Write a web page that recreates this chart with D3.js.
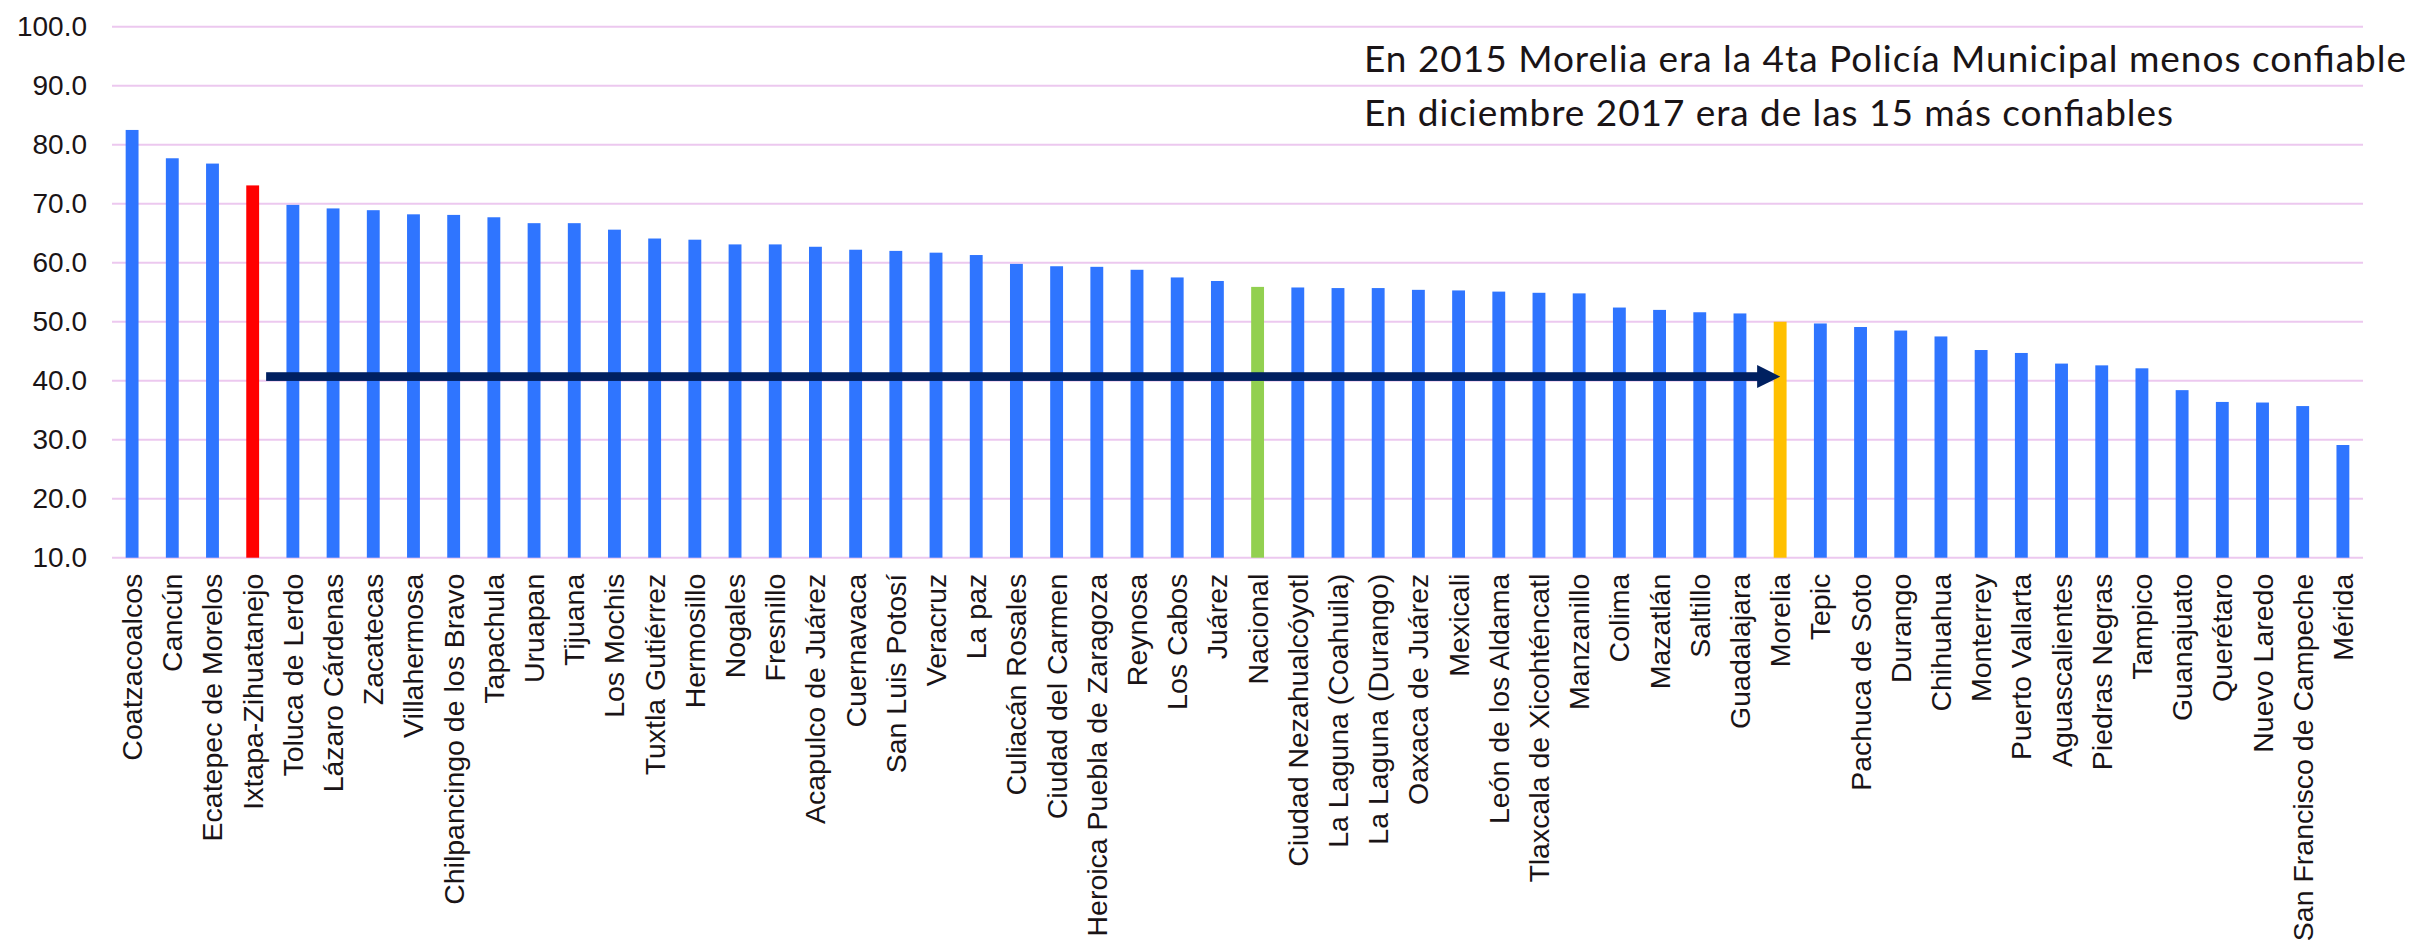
<!DOCTYPE html>
<html>
<head>
<meta charset="utf-8">
<script src="https://cdn.jsdelivr.net/npm/d3@7"></script>
<style>
  html, body { margin: 0; padding: 0; background: #ffffff; }
  svg { display: block; }
</style>
</head>
<body>
<svg id="chart" width="2413" height="951"></svg>
<script>
// Municipal police trust (%), December 2017
const cities = [
  "Coatzacoalcos", "Cancún", "Ecatepec de Morelos", "Ixtapa-Zihuatanejo", "Toluca de Lerdo",
  "Lázaro Cárdenas", "Zacatecas", "Villahermosa", "Chilpancingo de los Bravo", "Tapachula",
  "Uruapan", "Tijuana", "Los Mochis", "Tuxtla Gutiérrez", "Hermosillo", "Nogales", "Fresnillo",
  "Acapulco de Juárez", "Cuernavaca", "San Luis Potosí", "Veracruz", "La paz", "Culiacán Rosales",
  "Ciudad del Carmen", "Heroica Puebla de Zaragoza", "Reynosa", "Los Cabos", "Juárez", "Nacional",
  "Ciudad Nezahualcóyotl", "La Laguna (Coahuila)", "La Laguna (Durango)", "Oaxaca de Juárez",
  "Mexicali", "León de los Aldama", "Tlaxcala de Xicohténcatl", "Manzanillo", "Colima", "Mazatlán",
  "Saltillo", "Guadalajara", "Morelia", "Tepic", "Pachuca de Soto", "Durango", "Chihuahua",
  "Monterrey", "Puerto Vallarta", "Aguascalientes", "Piedras Negras", "Tampico", "Guanajuato",
  "Querétaro", "Nuevo Laredo", "San Francisco de Campeche", "Mérida"
];

const trust = [
  82.5, 77.7, 76.8, 73.1, 69.8,
  69.2, 68.9, 68.2, 68.1, 67.7,
  66.7, 66.7, 65.6, 64.1, 63.9, 63.1, 63.1,
  62.7, 62.2, 62.0, 61.7, 61.3, 59.8,
  59.4, 59.3, 58.8, 57.5, 56.9, 55.9,
  55.8, 55.7, 55.7, 55.4,
  55.3, 55.1, 54.9, 54.8, 52.4, 52.0,
  51.6, 51.4, 50.0, 49.7, 49.1, 48.5, 47.5,
  45.2, 44.7, 42.9, 42.6, 42.1, 38.4,
  36.4, 36.3, 35.7, 29.1
];

// Cities drawn in a highlight colour
const highlight = {
  "Ixtapa-Zihuatanejo": "#ff0000",
  "Nacional": "#92d050",
  "Morelia": "#ffc000"
};

const yTicks = [10, 20, 30, 40, 50, 60, 70, 80, 90, 100];

const notes = [
  "En 2015 Morelia era la 4ta Policía Municipal menos confiable",
  "En diciembre 2017 era de las 15 más confiables"
];

// Arrow from the 2015 position to the 2017 position
const arrowFrom = "Ixtapa-Zihuatanejo";
const arrowTo = "Morelia";
const arrowLevel = 40.7;

const svg = d3.select("#chart");
const plotLeft = 112, plotRight = 2363, plotTop = 26.7, plotBottom = 557.7;

const x = d3.scaleBand()
  .domain(cities)
  .range([plotLeft, plotRight])
  .paddingInner(0.68)
  .paddingOuter(0.34);

const y = d3.scaleLinear()
  .domain([10, 100])
  .range([plotBottom, plotTop]);

// Gridlines
svg.append("g")
  .selectAll("line")
  .data(yTicks)
  .join("line")
  .attr("x1", plotLeft)
  .attr("x2", plotRight)
  .attr("y1", d => y(d))
  .attr("y2", d => y(d))
  .attr("stroke", "#ecc8ef")
  .attr("stroke-width", 2);

// Y axis labels
const yAxis = d3.axisLeft(y)
  .tickValues(yTicks)
  .tickFormat(d3.format(".1f"))
  .tickSize(0)
  .tickPadding(0);

svg.append("g")
  .attr("transform", `translate(${plotLeft - 25},0)`)
  .call(yAxis)
  .call(g => g.select(".domain").remove())
  .call(g => g.selectAll("text")
    .attr("font-family", "'Liberation Sans', Arial, sans-serif")
    .attr("font-size", 28)
    .attr("fill", "#1a1416"));

// Bars
const data = cities.map((c, i) => ({ city: c, value: trust[i] }));

svg.append("g")
  .selectAll("rect")
  .data(data)
  .join("rect")
  .attr("x", d => x(d.city))
  .attr("width", x.bandwidth())
  .attr("y", d => y(d.value))
  .attr("height", d => y(10) - y(d.value))
  .attr("fill", d => highlight[d.city] || "#2f75ff");

// Category labels (rotated)
const xAxis = d3.axisBottom(x).tickSize(0).tickPadding(0);
svg.append("g")
  .attr("transform", `translate(0,${plotBottom})`)
  .call(xAxis)
  .call(g => g.select(".domain").remove())
  .call(g => g.selectAll("text")
    .attr("font-family", "'Liberation Sans', Arial, sans-serif")
    .attr("font-size", 28.5)
    .attr("fill", "#1a1416")
    .attr("text-anchor", "end")
    .attr("dy", null)
    .attr("y", 0)
    .attr("transform", "translate(10,16) rotate(-90)"));

// Arrow
const ay = y(arrowLevel);
const ax0 = x(arrowFrom) + x.bandwidth() + 7;
const axTip = x(arrowTo) + x.bandwidth() / 2;
const headLen = 23, headHalf = 11.5, shaft = 8.7;
const arrow = svg.append("g").attr("fill", "#002060");
arrow.append("rect")
  .attr("x", ax0)
  .attr("y", ay - shaft / 2)
  .attr("width", axTip - headLen - ax0 + 2)
  .attr("height", shaft);
arrow.append("path")
  .attr("d", d3.line()([
    [axTip - headLen, ay - headHalf],
    [axTip, ay],
    [axTip - headLen, ay + headHalf]
  ]) + "Z");

// Annotation
const noteWidths = [1042, 809];
svg.append("g")
  .selectAll("text")
  .data(notes)
  .join("text")
  .attr("x", 1364)
  .attr("y", (d, i) => 71.7 + i * 54.3)
  .attr("font-family", "Lato, 'Open Sans', sans-serif")
  .attr("font-size", 37)
  .attr("fill", "#1a1416")
  .attr("textLength", (d, i) => noteWidths[i])
  .attr("lengthAdjust", "spacing")
  .text(d => d);
</script>
</body>
</html>
